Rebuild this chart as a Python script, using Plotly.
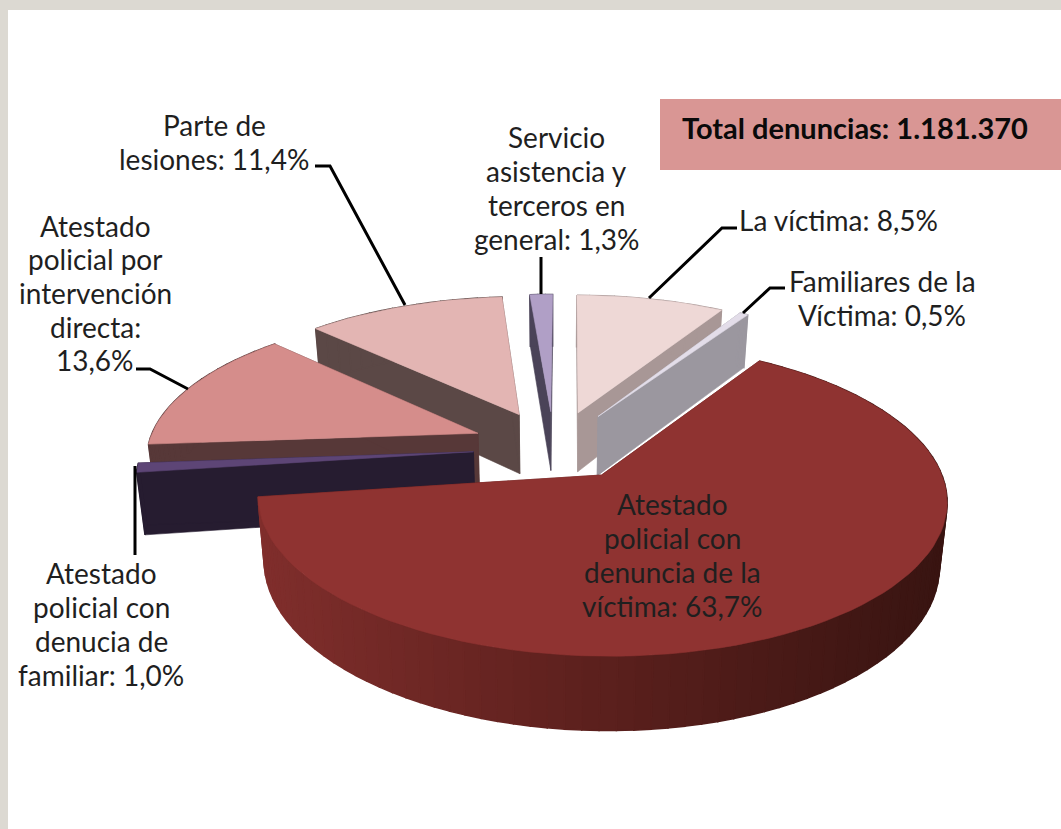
import math
import plotly.graph_objects as go

# ---------- data ----------
categories = ["La víctima", "Familiares de la Víctima", "Atestado policial con denuncia de la víctima",
              "Atestado policial con denucia de familiar", "Atestado policial por intervención directa",
              "Parte de lesiones", "Servicio asistencia y terceros en general"]
values = [8.5, 0.5, 63.7, 1.0, 13.6, 11.4, 1.3]
label_templates = ["La víctima: {}%", "Familiares de la<br>Víctima: {}%",
                   "Atestado<br>policial con<br>denuncia de la<br>víctima: {}%",
                   "Atestado<br>policial con<br>denucia de<br>familiar: {}%",
                   "Atestado<br>policial por<br>intervención<br>directa:<br>{}%",
                   "Parte de<br>lesiones: {}%",
                   "Servicio<br>asistencia y<br>terceros en<br>general: {}%"]
total_label = "Total denuncias: 1.181.370"

# ---------- styles ----------
top_colors = ["#eed8d6", "#e3dde9", "#8f3331", "#5d4576", "#d58d8b", "#e3b5b3", "#b09fc6"]
face_colors = ["#a89796", "#9b979f", "#5a1f1c", "#261c30", "#573838", "#5b4846", "#4a4358"]
draw_order = [0, 6, 5, 4, 3, 1, 2]
nudge_x = [0, 0, 0, -5, -6, -6, -4]
nudge_y = [0, 0, 0, 3, 0, 0, 0]
label_pos = [(838, 220), (882, 298), (672, 555), (101, 624), (95, 293), (214, 142), (556, 188)]
LINE_PITCH = 33.7
leaders = [[(737, 228), (722, 228), (649, 298)], [(785, 288), (770, 288), (743, 313)], None,
           [(135, 466), (135, 555)], [(136, 369), (150, 369), (188, 389)],
           [(315, 166), (330, 166), (405, 305)], [(541, 257), (541, 294)]]
CX, CY, RX, RY, PERSP, DEPTH, SHRINK, EXPLODE = 557.5, 445, 330, 144, 0.15, 61, 0.98, 0.24
START_DEG = 0.3
RIM_LEFT, RIM_MID, RIM_RIGHT = (128, 46, 44), (92, 32, 29), (56, 20, 17)


def project(u, v, low=False):
    s = 1 / (1 - PERSP * v)
    x = CX + RX * u * s
    y = CY + (RY * v + (DEPTH if low else 0)) * s
    if low:
        x = CX + (x - CX) * SHRINK
    return x, y


def point(theta, off, low=False):
    t = math.radians(theta)
    return project(off[0] + math.sin(t), off[1] - math.cos(t), low)


def poly(fig, pts, color, lw=0.6, dx=0, dy=0):
    fig.add_trace(go.Scatter(x=[p[0] + dx for p in pts] + [pts[0][0] + dx],
                             y=[p[1] + dy for p in pts] + [pts[0][1] + dy],
                             mode="lines", fill="toself", fillcolor=color,
                             line=dict(color=color, width=lw), hoverinfo="skip", showlegend=False))


def lerp(a, b, t):
    return tuple(round(a[i] + (b[i] - a[i]) * t) for i in range(3))


fig = go.Figure()

# slice angle spans come straight from the values
spans = []
acc = START_DEG
for val in values:
    spans.append((acc, acc + val * 3.6))
    acc += val * 3.6

for i in draw_order:
    a0, a1 = spans[i]
    dx, dy = nudge_x[i], nudge_y[i]
    mid = math.radians((a0 + a1) / 2)
    off = (EXPLODE * math.sin(mid), -EXPLODE * math.cos(mid))
    n = max(3, int((a1 - a0) / 2.5))
    thetas = [a0 + (a1 - a0) * k / n for k in range(n + 1)]
    # radial faces
    for th in (a0, a1):
        poly(fig, [project(*off), project(*off, True), point(th, off, True), point(th, off)],
             face_colors[i], dx=dx, dy=dy)
    # outer rim
    for k in range(n):
        th0, th1 = thetas[k], thetas[k + 1]
        if i == 2:
            xm = (point(th0, off)[0] - 258) / (950 - 258)
            xm = min(1, max(0, xm))
            c = lerp(RIM_LEFT, RIM_MID, xm * 2) if xm < 0.5 else lerp(RIM_MID, RIM_RIGHT, xm * 2 - 1)
            col = "rgb(%d,%d,%d)" % c
        else:
            col = face_colors[i]
        poly(fig, [point(th0, off), point(th1, off), point(th1, off, True), point(th0, off, True)],
             col, lw=1.5, dx=dx, dy=dy)
    # top surface
    poly(fig, [project(*off)] + [point(t, off) for t in thetas], top_colors[i], dx=dx, dy=dy)

# leader lines
for pts in leaders:
    if pts:
        fig.add_trace(go.Scatter(x=[p[0] for p in pts], y=[p[1] for p in pts], mode="lines",
                                 line=dict(color="#000000", width=3), hoverinfo="skip", showlegend=False))

# labels (one annotation per line so that the line pitch matches)
for tpl, val, (lx, ly) in zip(label_templates, values, label_pos):
    lines = tpl.format(str(val).replace(".", ",")).split("<br>")
    for j, line in enumerate(lines):
        fig.add_annotation(x=lx, y=ly + (j - (len(lines) - 1) / 2) * LINE_PITCH, text=line, showarrow=False,
                           font=dict(family="Lato", size=28, color="#1f1f1f"), align="center",
                           xanchor="center", yanchor="middle")

fig.add_shape(type="rect", x0=660, x1=1061, y0=99, y1=170, fillcolor="#d99694", line_width=0, layer="below")
fig.add_annotation(x=855, y=127, text="<b>%s</b>" % total_label, showarrow=False,
                   font=dict(family="Lato", size=29, color="#0a0a0a"), xanchor="center", yanchor="middle")

fig.update_layout(width=1061, height=829, margin=dict(l=8, r=0, t=10, b=0), autosize=False,
                  paper_bgcolor="#dcd9d2", plot_bgcolor="#ffffff", showlegend=False,
                  xaxis=dict(range=[8, 1061], visible=False, fixedrange=True),
                  yaxis=dict(range=[829, 10], visible=False, fixedrange=True))
fig.write_html("out.html", config={"displayModeBar": False},
               post_script="document.body.style.margin='0';document.body.style.overflow='hidden';")
